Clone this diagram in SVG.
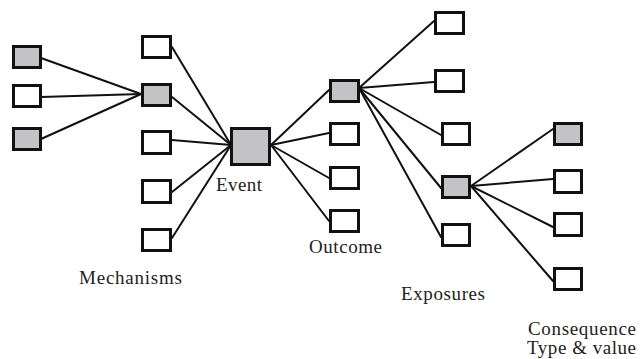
<svg xmlns="http://www.w3.org/2000/svg" width="640" height="359" viewBox="0 0 640 359">
  <style>
    .box { fill: #ffffff; stroke: #111111; stroke-width: 3; }
    .shaded { fill: #c3c3c6; }
    .link { stroke: #111111; stroke-width: 2; fill: none; stroke-linecap: round; }
    .lbl { font-family: "Liberation Serif", "Times New Roman", serif; font-size: 19px; fill: #222222; }
  </style>
  <rect width="640" height="359" fill="#ffffff"/>

  <!-- connectors -->
  <g id="connectors" class="link">
    <!-- causes into mechanism -->
    <line x1="41" y1="58" x2="141" y2="94"/>
    <line x1="41" y1="97" x2="141" y2="94"/>
    <line x1="41" y1="139" x2="141" y2="94"/>
    <!-- mechanisms into event -->
    <line x1="172" y1="47" x2="231" y2="145"/>
    <line x1="172" y1="97" x2="231" y2="145"/>
    <line x1="172" y1="140" x2="231" y2="145"/>
    <line x1="172" y1="192" x2="231" y2="145"/>
    <line x1="172" y1="238" x2="231" y2="145"/>
    <!-- event to outcomes -->
    <line x1="271" y1="145" x2="329" y2="90"/>
    <line x1="271" y1="145" x2="329" y2="133"/>
    <line x1="271" y1="145" x2="329" y2="178"/>
    <line x1="271" y1="145" x2="329" y2="221"/>
    <!-- outcome to exposures -->
    <line x1="359" y1="88" x2="434" y2="21"/>
    <line x1="359" y1="88" x2="434" y2="82"/>
    <line x1="359" y1="88" x2="441" y2="135"/>
    <line x1="359" y1="88" x2="441" y2="188"/>
    <line x1="359" y1="88" x2="441" y2="237"/>
    <!-- exposure to consequences -->
    <line x1="471" y1="186" x2="553" y2="129"/>
    <line x1="471" y1="186" x2="553" y2="179"/>
    <line x1="471" y1="186" x2="553" y2="227"/>
    <line x1="471" y1="186" x2="553" y2="281"/>
  </g>

  <!-- causes -->
  <g id="cause-1"><rect class="box shaded" x="13.5" y="46.5" width="27" height="21"/></g>
  <g id="cause-2"><rect class="box" x="13.5" y="85.5" width="27" height="21"/></g>
  <g id="cause-3"><rect class="box shaded" x="13.5" y="128.5" width="27" height="21"/></g>

  <!-- mechanisms -->
  <g id="mechanism-1"><rect class="box" x="142.5" y="36.5" width="28" height="21"/></g>
  <g id="mechanism-2"><rect class="box shaded" x="142.5" y="84.5" width="28" height="21"/></g>
  <g id="mechanism-3"><rect class="box" x="142.5" y="131.5" width="28" height="22"/></g>
  <g id="mechanism-4"><rect class="box" x="142.5" y="180.5" width="28" height="22"/></g>
  <g id="mechanism-5"><rect class="box" x="142.5" y="229.5" width="28" height="21"/></g>
  <g id="mechanisms-label"><text class="lbl" x="79" y="284" textLength="103" lengthAdjust="spacing">Mechanisms</text></g>

  <!-- event -->
  <g id="event">
    <rect class="box shaded" x="231.5" y="128.5" width="38" height="36"/>
    <text class="lbl" x="216" y="191" textLength="46" lengthAdjust="spacing">Event</text>
  </g>

  <!-- outcomes -->
  <g id="outcome-1"><rect class="box shaded" x="330.5" y="80.5" width="28" height="21"/></g>
  <g id="outcome-2"><rect class="box" x="330.5" y="123.5" width="28" height="21"/></g>
  <g id="outcome-3"><rect class="box" x="330.5" y="167.5" width="28" height="21"/></g>
  <g id="outcome-4"><rect class="box" x="330.5" y="210.5" width="28" height="21"/></g>
  <g id="outcome-label"><text class="lbl" x="309" y="253" textLength="73" lengthAdjust="spacing">Outcome</text></g>

  <!-- exposures -->
  <g id="exposure-1"><rect class="box" x="435.5" y="12.5" width="28" height="21"/></g>
  <g id="exposure-2"><rect class="box" x="435.5" y="70.5" width="28" height="21"/></g>
  <g id="exposure-3"><rect class="box" x="442.5" y="123.5" width="27" height="21"/></g>
  <g id="exposure-4"><rect class="box shaded" x="442.5" y="176.5" width="27" height="21"/></g>
  <g id="exposure-5"><rect class="box" x="442.5" y="224.5" width="27" height="21"/></g>
  <g id="exposures-label"><text class="lbl" x="401" y="300" textLength="84" lengthAdjust="spacing">Exposures</text></g>

  <!-- consequences -->
  <g id="consequence-1"><rect class="box shaded" x="554.5" y="123.5" width="27" height="21"/></g>
  <g id="consequence-2"><rect class="box" x="554.5" y="170.5" width="27" height="22"/></g>
  <g id="consequence-3"><rect class="box" x="554.5" y="213.5" width="27" height="22"/></g>
  <g id="consequence-4"><rect class="box" x="554.5" y="268.5" width="27" height="21"/></g>
  <g id="consequence-label">
    <text class="lbl" x="528" y="335" textLength="108" lengthAdjust="spacing">Consequence</text>
    <text class="lbl" x="527" y="354" textLength="109" lengthAdjust="spacing">Type &amp; value</text>
  </g>
</svg>
